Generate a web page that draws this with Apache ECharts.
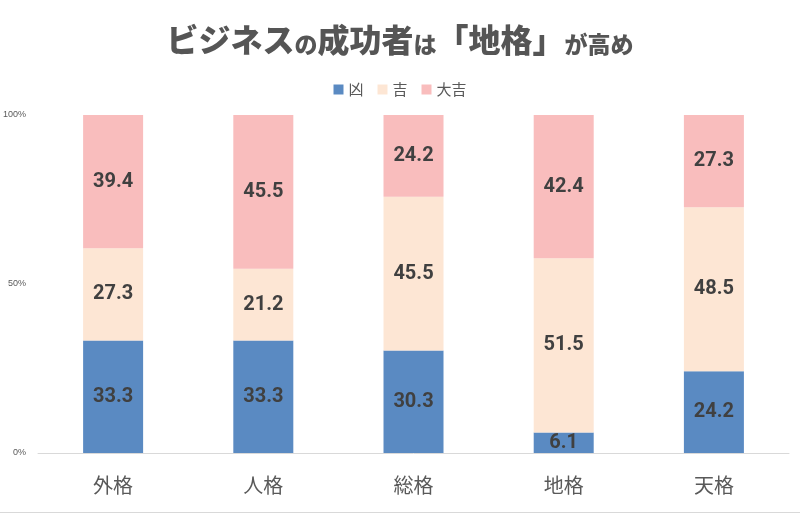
<!DOCTYPE html>
<html><head><meta charset="utf-8">
<script src="https://cdn.jsdelivr.net/npm/echarts@6/dist/echarts.min.js"></script>
<style>html,body{margin:0;padding:0;background:#fff}#c{width:800px;height:514px}</style>
</head><body><div id="c"></div>
<script>
var categories = ['外格','人格','総格','地格','天格'];
var seriesNames = ['凶','吉','大吉'];
var kyo = [33.3, 33.3, 30.3, 6.1, 24.2];
var kichi = [27.3, 21.2, 45.5, 51.5, 48.5];
var daikichi = [39.4, 45.5, 24.2, 42.4, 27.3];
var yTicks = ['0%','50%','100%'];
var colors = ['#5a8ac2','#fde6d4','#f9bdbd'];

var chart = echarts.init(document.getElementById('c'));
var labelStyle = {show:true, position:'inside', fontSize:20, fontWeight:'bold', color:'#404040',
  fontFamily:'Roboto', formatter:function(p){return p.value.toFixed(1);}};
function mk(name, data, color){
  return {name:name, type:'bar', stack:'s', data:data, barWidth:60,
    itemStyle:{color:color}, label:labelStyle, emphasis:{disabled:true}};
}
chart.setOption({
  animation:false,
  title:{text:'{b|ビジネス}{s|の}{b|成功者}{s|は}{b|「地格」}{s|が高め}', left:'center', top:19,
    textStyle:{rich:{
      b:{fontSize:32, fontWeight:900, color:'#555555', fontFamily:'Noto Sans CJK JP'},
      s:{fontSize:23, fontWeight:900, color:'#555555', fontFamily:'Noto Sans CJK JP', verticalAlign:'bottom', padding:[7,0,0,0]}
    }}},
  legend:{data:seriesNames, top:77, left:'center', itemWidth:10, itemHeight:10, itemGap:14, icon:'rect',
    textStyle:{fontSize:15, color:'#595959', fontFamily:'Noto Sans CJK JP'}},
  grid:{left:37, right:11, top:115, bottom:61},
  xAxis:{type:'category', data:categories,
    axisLine:{lineStyle:{color:'#d9d9d9'}}, axisTick:{show:false},
    axisLabel:{fontSize:20, color:'#595959', margin:22, fontFamily:'Noto Sans CJK JP'}},
  yAxis:{type:'value', min:0, max:100, interval:50,
    axisLine:{show:false}, axisTick:{show:false}, splitLine:{show:false},
    axisLabel:{fontSize:9, color:'#595959', margin:12, formatter:function(v){return v+'%';}}},
  series:[mk(seriesNames[0], kyo, colors[0]), mk(seriesNames[1], kichi, colors[1]), mk(seriesNames[2], daikichi, colors[2])],
  graphic:[{type:'line', shape:{x1:0,y1:512.5,x2:800,y2:512.5}, style:{stroke:'#d9d9d9', lineWidth:1}}]
});
</script></body></html>
